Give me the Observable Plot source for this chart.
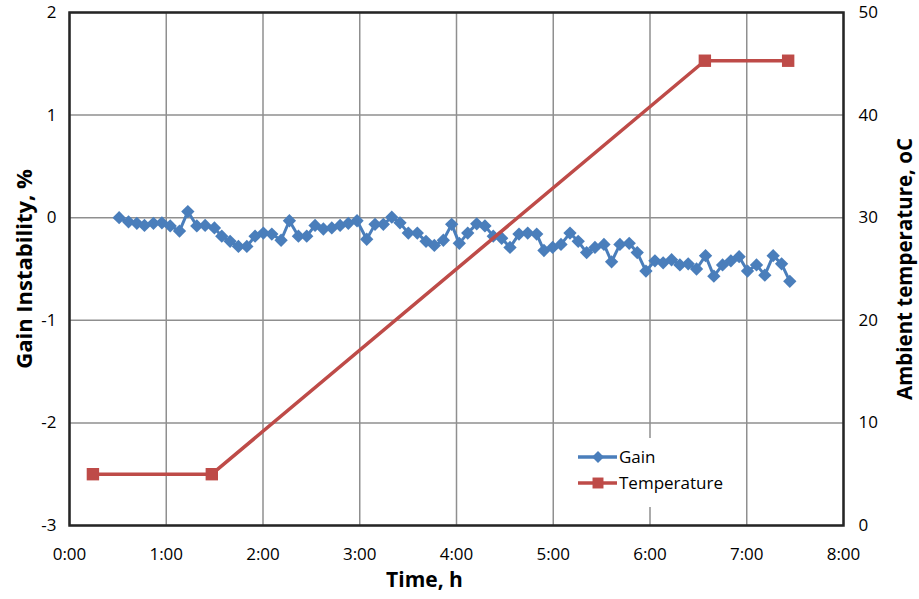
<!DOCTYPE html>
<html>
<head>
<meta charset="utf-8">
<script src="https://cdn.jsdelivr.net/npm/d3@7"></script>
<script src="https://cdn.jsdelivr.net/npm/@observablehq/plot@0.6"></script>
<style>
  html, body { margin: 0; padding: 0; background: #fff; }
  #wrap { position: relative; width: 919px; height: 599px; font-family: "Open Sans", sans-serif; }
  #legend { position: absolute; left: 564px; top: 438px; width: 165px; height: 69px; background: #fff; }
</style>
</head>
<body>
<div id="wrap">
  <div id="chart"></div>
  <div id="legend"></div>
</div>
<script>
// ---- data ----
const gainHours = [0.513,0.610,0.696,0.775,0.868,0.955,1.041,1.137,1.223,1.316,1.402,1.498,1.574,1.660,1.746,1.833,1.918,2.004,2.091,2.187,2.273,2.366,2.452,2.538,2.624,2.711,2.797,2.882,2.972,3.072,3.158,3.244,3.331,3.416,3.502,3.595,3.685,3.771,3.864,3.950,4.029,4.116,4.209,4.294,4.380,4.467,4.553,4.646,4.736,4.829,4.904,4.994,5.080,5.173,5.258,5.345,5.431,5.524,5.603,5.689,5.785,5.868,5.958,6.051,6.136,6.223,6.309,6.395,6.481,6.574,6.660,6.750,6.836,6.921,7.008,7.101,7.187,7.273,7.360,7.445];
const gainValues = [0,-0.04,-0.055,-0.075,-0.055,-0.05,-0.08,-0.13,0.06,-0.08,-0.075,-0.10,-0.18,-0.23,-0.28,-0.28,-0.18,-0.15,-0.16,-0.22,-0.03,-0.18,-0.18,-0.075,-0.11,-0.10,-0.075,-0.055,-0.03,-0.21,-0.065,-0.065,0.005,-0.05,-0.15,-0.15,-0.23,-0.27,-0.22,-0.065,-0.25,-0.15,-0.06,-0.08,-0.18,-0.20,-0.29,-0.16,-0.15,-0.16,-0.32,-0.29,-0.26,-0.15,-0.23,-0.34,-0.29,-0.26,-0.43,-0.26,-0.25,-0.34,-0.52,-0.42,-0.44,-0.41,-0.46,-0.45,-0.50,-0.37,-0.57,-0.46,-0.42,-0.38,-0.52,-0.46,-0.56,-0.37,-0.45,-0.62];
const tempHours = [0.242, 1.471, 6.567, 7.428];
const tempValues = [5, 5, 45.3, 45.3];
const hourTicks = [0,1,2,3,4,5,6,7,8];
const gainTicks = [-3,-2,-1,0,1,2];
const tempTicks = [0,10,20,30,40,50];
const gainDomain = [-3, 2];
const tempDomain = [0, 50];
const labels = { x: "Time, h", yLeft: "Gain Instability, %", yRight: "Ambient temperature, oC", gain: "Gain", temp: "Temperature" };

// temperature mapped onto the gain scale (secondary axis)
const tempToGain = d3.scaleLinear().domain(tempDomain).range(gainDomain);

const gainData = gainHours.map((h, i) => ({h, v: gainValues[i]}));
const tempData = tempHours.map((h, i) => ({h, t: tempValues[i]}));

const blue = "#4A7EBB", red = "#BE4B48", grid = "#8f8f8f";

const chart = Plot.plot({
  width: 919, height: 599,
  marginLeft: 69, marginRight: 76, marginTop: 12, marginBottom: 74,
  x: {domain: [0, 8]},
  y: {domain: gainDomain},
  style: {fontFamily: "'Open Sans', sans-serif", fontSize: "17px", color: "#000", background: "#fff", overflow: "visible"},
  marks: [
    Plot.gridX(hourTicks, {stroke: grid, strokeOpacity: 1, strokeWidth: 1.5}),
    Plot.gridY(gainTicks, {stroke: grid, strokeOpacity: 1, strokeWidth: 1.5}),
    Plot.axisX(hourTicks, {tickSize: 0, tickPadding: 22, tickFormat: d => d + ":00", label: null, fontSize: 17}),
    Plot.axisY(gainTicks, {anchor: "left", tickSize: 0, tickPadding: 13, label: null, fontSize: 17, tickFormat: d => String(d)}),
    Plot.axisY(tempTicks.map(t => tempToGain(t)), {anchor: "right", tickSize: 0, tickPadding: 15, label: null, fontSize: 17,
      tickFormat: d => String(Math.round(tempToGain.invert(d)))}),
    Plot.frame({stroke: "#262626", strokeWidth: 2.5}),
    Plot.line(gainData, {x: "h", y: "v", stroke: blue, strokeWidth: 3}),
    Plot.dot(gainData, {x: "h", y: "v", symbol: "diamond2", r: 6, fill: blue, stroke: "none"}),
    Plot.line(tempData, {x: "h", y: d => tempToGain(d.t), stroke: red, strokeWidth: 3.5}),
    Plot.dot(tempData, {x: "h", y: d => tempToGain(d.t), symbol: "square", r: 7, fill: red, stroke: "none"}),
    Plot.text([labels.x], {frameAnchor: "bottom", textAnchor: "middle", lineAnchor: "middle", dx: -32, dy: 55, fontWeight: "bold", fontSize: 21, fill: "#000"}),
    Plot.text([labels.yLeft], {frameAnchor: "left", textAnchor: "middle", lineAnchor: "middle", dx: -45, rotate: -90, fontWeight: "bold", fontSize: 22, fill: "#000"}),
    Plot.text([labels.yRight], {frameAnchor: "right", textAnchor: "middle", lineAnchor: "middle", dx: 62, dy: 0, rotate: -90, fontWeight: "bold", fontSize: 20.5, fill: "#000"})
  ]
});
document.getElementById("chart").appendChild(chart);

// legend
const lg = d3.select("#legend").append("svg").attr("width", 165).attr("height", 69)
  .style("font-family", "'Open Sans', sans-serif").style("font-size", "17px");
const rows = [
  {label: labels.gain, color: blue, sym: d3.symbolDiamond2, size: 90, y: 19},
  {label: labels.temp, color: red, sym: d3.symbolSquare, size: 120, y: 45}
];
rows.forEach(r => {
  const g = lg.append("g");
  g.append("line").attr("x1", 14).attr("x2", 53).attr("y1", r.y).attr("y2", r.y).attr("stroke", r.color).attr("stroke-width", 3.5);
  g.append("path").attr("d", d3.symbol(r.sym, r.size)()).attr("transform", `translate(34,${r.y})`).attr("fill", r.color);
  g.append("text").attr("x", 55).attr("y", r.y).attr("dy", "0.35em").text(r.label);
});
</script>
</body>
</html>
